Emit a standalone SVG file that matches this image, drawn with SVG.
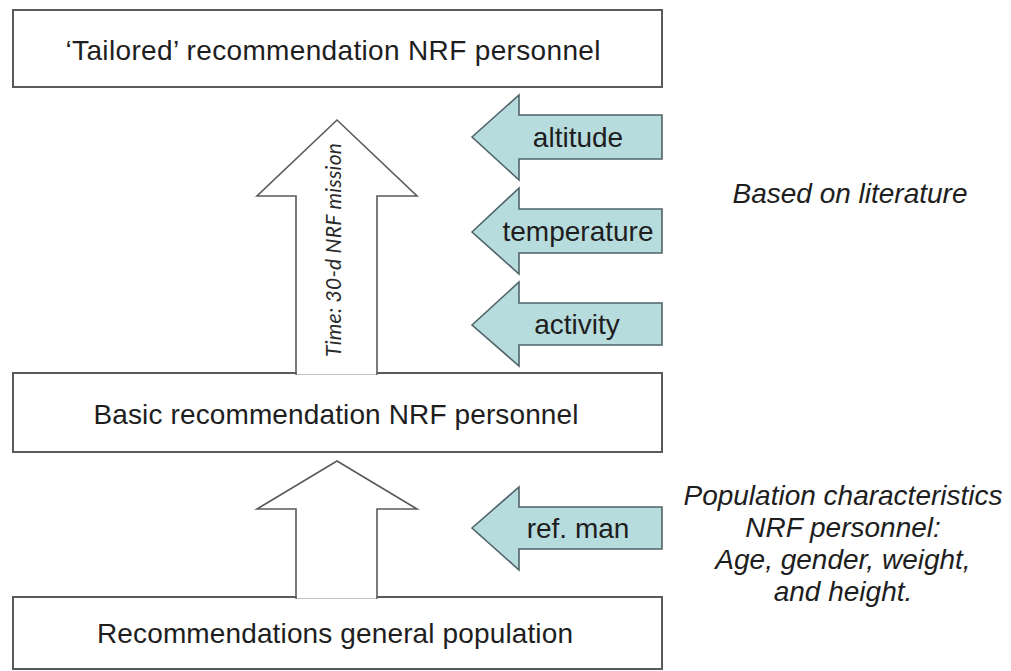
<svg xmlns="http://www.w3.org/2000/svg" width="1011" height="671" viewBox="0 0 1011 671">
<style>
.box{fill:#fff;stroke:#5a5a5a;stroke-width:2}
.up{fill:#fff;stroke:#5a5a5a;stroke-width:1.6;stroke-linejoin:miter}
.la{fill:#b7dcdd;stroke:#4f6368;stroke-width:1.6}
.t{font-family:"Liberation Sans",Arial,sans-serif;font-size:28px;fill:#1e1e1e;text-anchor:middle}
.i{font-style:italic}
.tm{font-family:Lato,"Liberation Sans",sans-serif;font-style:italic;font-size:21px;fill:#2a2a2a;text-anchor:middle}
</style>
<rect width="1011" height="671" fill="#fff"/>
<g id="node-tailored">
<rect class="box" x="13" y="10" width="649" height="77"/>
<text class="t" x="333" y="60" textLength="535">‘Tailored’ recommendation  NRF personnel</text>
</g>
<g id="node-basic">
<rect class="box" x="13" y="373" width="649" height="79"/>
<text class="t" x="336" y="424" textLength="485">Basic recommendation  NRF personnel</text>
</g>
<g id="node-general">
<rect class="box" x="13" y="597" width="649" height="72"/>
<text class="t" x="335" y="643" textLength="476">Recommendations general population</text>
</g>
<g id="connectors">
<polygon class="up" points="296,374 296,196 257,196 337,120 417,196 377,196 377,374"/>
<polygon class="up" points="296,598 296,509 257,509 337,461 417,509 377,509 377,598"/>
<path d="M297,373H376M297,597H376" stroke="#fff" stroke-width="3"/>
</g>
<g id="label-time">
<text class="tm" transform="translate(341,250) rotate(-90)" x="0" y="0" textLength="214">Time: 30-d NRF mission</text>
</g>
<g id="node-altitude">
<polygon class="la" points="472,137 519,95 519,115 662,115 662,159 519,159 519,180"/>
<text class="t" x="578" y="147">altitude</text>
</g>
<g id="node-temperature">
<polygon class="la" points="472,232 519,188 519,209 662,209 662,253 519,253 519,274"/>
<text class="t" x="578" y="241">temperature</text>
</g>
<g id="node-activity">
<polygon class="la" points="472,325 519,282 519,303 662,303 662,345 519,345 519,366"/>
<text class="t" x="577" y="334">activity</text>
</g>
<g id="node-refman">
<polygon class="la" points="472,528 519,487 519,507 662,507 662,549 519,549 519,570"/>
<text class="t" x="578" y="538">ref. man</text>
</g>
<g id="note-literature">
<text class="t i" x="850" y="203">Based on literature</text>
</g>
<g id="note-population">
<text class="t i" x="843" y="505">Population characteristics</text>
<text class="t i" x="843" y="537">NRF personnel:</text>
<text class="t i" x="843" y="569">Age, gender, weight,</text>
<text class="t i" x="843" y="601">and height.</text>
</g>
</svg>
